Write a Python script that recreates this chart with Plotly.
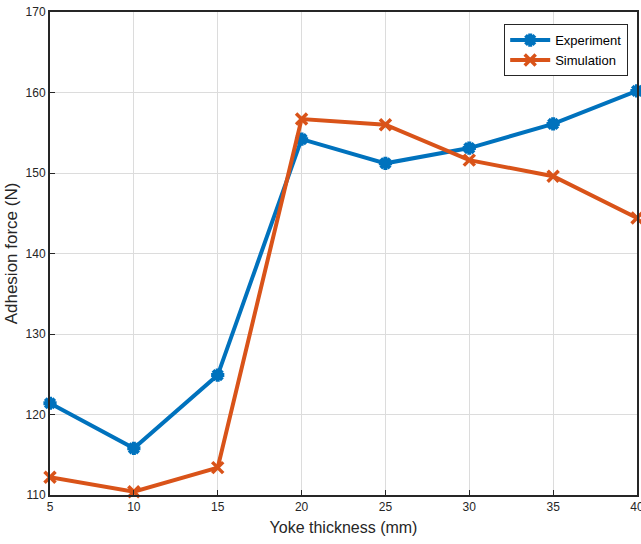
import plotly.graph_objects as go

thickness = [5, 10, 15, 20, 25, 30, 35, 40]
experiment = [121.4, 115.8, 124.9, 154.2, 151.2, 153.1, 156.1, 160.2]
simulation = [112.2, 110.4, 113.4, 156.7, 156.0, 151.6, 149.6, 144.4]

fig = go.Figure()
fig.add_trace(go.Scatter(
    x=thickness, y=experiment, name="Experiment", mode="lines+markers",
    line=dict(color="#0072BD", width=4),
    marker=dict(symbol="asterisk-open", size=11, color="#0072BD",
                line=dict(color="#0072BD", width=4)),
    cliponaxis=False,
))
fig.add_trace(go.Scatter(
    x=thickness, y=simulation, name="Simulation", mode="lines+markers",
    line=dict(color="#D95319", width=4),
    marker=dict(symbol="x-thin-open", size=11, color="#D95319",
                line=dict(color="#D95319", width=3.5)),
    cliponaxis=False,
))

axis_common = dict(
    showgrid=True, gridcolor="#DCDCDC", gridwidth=1,
    showline=True, linecolor="#262626", linewidth=2, mirror=True,
    ticks="inside", ticklen=5, tickcolor="#262626",
    tickfont=dict(family="Liberation Sans, Arial", size=12, color="#262626"),
    zeroline=False, ticklabeloverflow="allow", automargin=False,
)

fig.update_layout(
    width=641, height=544,
    margin=dict(l=50, r=4, t=12, b=49),
    paper_bgcolor="white", plot_bgcolor="white",
    font=dict(family="Liberation Sans, Arial", color="#262626"),
    xaxis=dict(range=[5, 40], tickvals=thickness,
               title=dict(text="Yoke thickness (mm)", font=dict(size=16, color="#262626"), standoff=8),
               **axis_common),
    yaxis=dict(range=[110, 170], tickvals=[110, 120, 130, 140, 150, 160, 170],
               title=dict(text="Adhesion force (N)", font=dict(size=17, color="#262626"), standoff=4),
               **axis_common),
    legend=dict(x=0.985, y=0.975, xanchor="right", yanchor="top",
                bgcolor="white", bordercolor="#262626", borderwidth=1,
                font=dict(size=13, color="#000000"), tracegroupgap=0,
                itemwidth=40),
    showlegend=True,
)

fig.write_html("out.html")
